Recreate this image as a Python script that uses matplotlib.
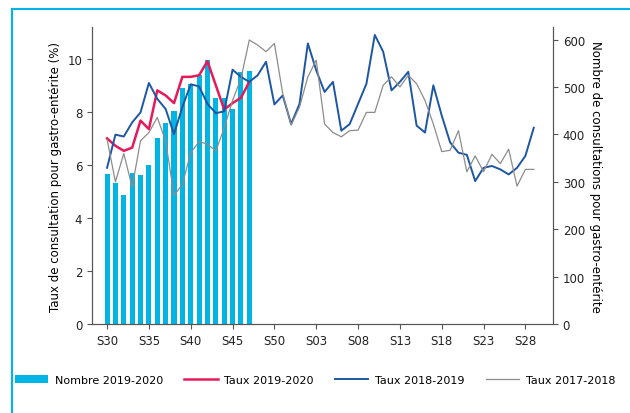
import matplotlib.pyplot as plt
import numpy as np

# semaines S30 (2019) -> S29 (2020)
weeks = list(range(30, 53)) + list(range(1, 30))
tick_pos = [0, 5, 10, 15, 20, 25, 30, 35, 40, 45, 50]
tick_labels = ["S30", "S35", "S40", "S45", "S50", "S03", "S08", "S13", "S18", "S23", "S28"]

nombre_2019_2020 = [316, 298, 273, 319, 315, 336, 393, 425, 449, 499, 506, 525, 558,
                    477, 477, 454, 532, 534]
taux_2019_2020 = [7.0, 6.72, 6.53, 6.65, 7.67, 7.35, 8.81, 8.62, 8.33, 9.32, 9.32, 9.38,
                  9.91, 9.0, 8.09, 8.33, 8.53, 9.13]
taux_2018_2019 = [5.89, 7.14, 7.07, 7.60, 7.98, 9.09, 8.49, 8.11, 7.16, 8.18, 9.04, 8.96,
                  8.30, 7.95, 8.02, 9.59, 9.32, 9.13, 9.38, 9.89, 8.28, 8.62, 7.54,
                  8.30, 10.58, 9.57, 8.75, 9.13, 7.29, 7.54, 8.30, 9.06, 10.90, 10.27,
                  8.81, 9.13, 9.51, 7.48, 7.22, 9.00, 7.86, 6.85, 6.46, 6.38, 5.39,
                  5.89, 5.96, 5.83, 5.64, 5.89, 6.34, 7.4]
taux_2017_2018 = [6.97, 5.36, 6.43, 5.16, 6.91, 7.22, 7.79, 6.91, 4.85, 5.26, 6.46, 6.88,
                  6.78, 6.53, 7.39, 8.43, 9.25, 10.71, 10.52, 10.27, 10.58, 8.68, 7.5,
                  8.18, 9.32, 9.95, 7.54, 7.22, 7.06, 7.29, 7.31, 7.98, 7.98, 9.0, 9.32,
                  8.94, 9.38, 9.06, 8.43, 7.54, 6.50, 6.55, 7.29, 5.74, 6.34, 5.74, 6.40,
                  6.05, 6.59, 5.20, 5.83, 5.83]

fig = plt.figure(figsize=(6.3, 4.14), dpi=100)
ax = fig.add_axes([92 / 630, 1 - 325 / 414, (553 - 92) / 630, (325 - 28) / 414])
ax2 = ax.twinx()

# bars on the count axis
x = np.arange(len(weeks))
bars = ax2.bar(x[:len(nombre_2019_2020)], nombre_2019_2020, width=0.6, color="#00b4e4",
               label="Nombre 2019-2020", zorder=1)
ax2.set_zorder(0)
ax.set_zorder(1)
ax.patch.set_visible(False)

l1, = ax.plot(x[:len(taux_2019_2020)], taux_2019_2020, color="#e6195a", lw=1.8,
              label="Taux 2019-2020")
l2, = ax.plot(x, taux_2018_2019, color="#1d56a3", lw=1.4, label="Taux 2018-2019")
l3, = ax.plot(x, taux_2017_2018, color="#8c8c8c", lw=0.9, label="Taux 2017-2018")

ax.set_xlim(-1.8, 53.3)
ax.set_ylim(0, 11.2)
ax2.set_ylim(0, 11.2 * 26.3 / 0.47)
ax.set_yticks([0, 2, 4, 6, 8, 10])
ax2.set_yticks([0, 100, 200, 300, 400, 500, 600])
ax.set_xticks(tick_pos)
ax.set_xticklabels(tick_labels)

for a in (ax, ax2):
    a.spines["top"].set_visible(False)
    for s in a.spines.values():
        s.set_color("#555555")
    a.tick_params(labelsize=8.5, colors="#222222", color="#555555")
ax.set_ylabel("Taux de consultation pour gastro-entérite (%)", fontsize=8.5)
ax2.set_ylabel("Nombre de consultations pour gastro-entérite", fontsize=8.5,
               rotation=270, labelpad=12)

fig.legend([bars, l1, l2, l3], ["Nombre 2019-2020", "Taux 2019-2020", "Taux 2018-2019",
                                "Taux 2017-2018"],
           loc="center", bbox_to_anchor=(0.5, 1 - 381 / 414), ncol=4, frameon=False,
           fontsize=8, handlelength=3, handletextpad=0.6, columnspacing=1.9)

# cadre bleu
fig.add_artist(plt.Line2D([12 / 630, 12 / 630], [0, 1 - 10 / 414], color="#00b4e4", lw=1.5))
fig.add_artist(plt.Line2D([12 / 630, 1], [1 - 10 / 414, 1 - 10 / 414], color="#00b4e4", lw=1.5))

fig.savefig("out.png", dpi=100)
